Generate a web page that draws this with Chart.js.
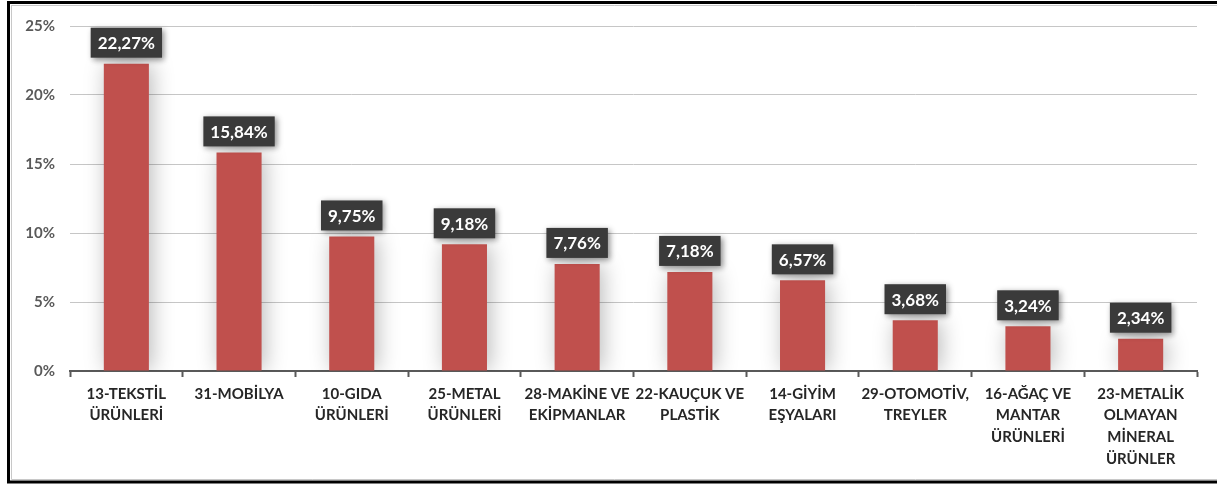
<!DOCTYPE html>
<html>
<head>
<meta charset="utf-8">
<script src="https://cdn.jsdelivr.net/npm/chart.js@4/dist/chart.umd.min.js"></script>
<style>
  html, body { margin: 0; padding: 0; background: #ffffff; }
  #wrap { position: relative; width: 1217px; height: 484px; }
</style>
</head>
<body>
<div id="wrap"><canvas id="c" width="1217" height="484"></canvas></div>
<script>
// Sector categories (multi-line tick labels)
const categories = [
  ['13-TEKSTİL', 'ÜRÜNLERİ'],
  ['31-MOBİLYA'],
  ['10-GIDA', 'ÜRÜNLERİ'],
  ['25-METAL', 'ÜRÜNLERİ'],
  ['28-MAKİNE VE', 'EKİPMANLAR'],
  ['22-KAUÇUK VE', 'PLASTİK'],
  ['14-GİYİM', 'EŞYALARI'],
  ['29-OTOMOTİV,', 'TREYLER'],
  ['16-AĞAÇ VE', 'MANTAR', 'ÜRÜNLERİ'],
  ['23-METALİK', 'OLMAYAN', 'MİNERAL', 'ÜRÜNLER']
];

// Share of each sector, percent
const shares = [22.27, 15.84, 9.75, 9.18, 7.76, 7.18, 6.57, 3.68, 3.24, 2.34];

// Value axis ticks
const yTicks = [0, 5, 10, 15, 20, 25];

const FONT = 'Lato, "Open Sans", sans-serif';

// Soft drop shadow behind the bars
const barShadow = {
  id: 'barShadow',
  beforeDatasetsDraw(chart) {
    const ctx = chart.ctx;
    ctx.save();
    ctx.shadowColor = 'rgba(0,0,0,0.28)';
    ctx.shadowBlur = 22;
    ctx.shadowOffsetX = 3;
    ctx.shadowOffsetY = 0;
  },
  afterDatasetsDraw(chart) {
    chart.ctx.restore();
  }
};

// Dark value callouts above each bar
const valueBoxes = {
  id: 'valueBoxes',
  afterDatasetsDraw(chart) {
    const ctx = chart.ctx;
    const meta = chart.getDatasetMeta(0);
    const data = chart.data.datasets[0].data;
    ctx.save();
    ctx.font = 'bold 17px ' + FONT;
    meta.data.forEach((bar, i) => {
      const txt = data[i].toFixed(2).replace('.', ',') + '%';
      const tw = ctx.measureText(txt).width;
      const w = tw + 14, h = 30;
      const x = bar.x - w / 2;
      const y = bar.y - 6 - h;
      ctx.save();
      ctx.shadowColor = 'rgba(0,0,0,0.45)';
      ctx.shadowBlur = 6;
      ctx.shadowOffsetX = 2;
      ctx.shadowOffsetY = 2;
      ctx.fillStyle = '#3a3a3a';
      ctx.fillRect(x, y, w, h);
      ctx.restore();
      ctx.fillStyle = '#ffffff';
      ctx.textAlign = 'center';
      ctx.textBaseline = 'middle';
      ctx.fillText(txt, bar.x, y + h / 2 + 1);
    });
    ctx.restore();
  }
};

// Frame around the figure
const frame = {
  id: 'frame',
  afterDraw(chart) {
    const ctx = chart.ctx;
    ctx.save();
    ctx.strokeStyle = '#c8c8c8';
    ctx.lineWidth = 1;
    ctx.beginPath();
    ctx.moveTo(11.5, 5);
    ctx.lineTo(11.5, 479.5);
    ctx.lineTo(1217, 479.5);
    ctx.moveTo(11.5, 5.5);
    ctx.lineTo(1217, 5.5);
    ctx.stroke();
    ctx.strokeStyle = '#000000';
    ctx.lineWidth = 3;
    ctx.beginPath();
    ctx.moveTo(1217, 2.5);
    ctx.lineTo(8.5, 2.5);
    ctx.lineTo(8.5, 482);
    ctx.lineTo(1217, 482);
    ctx.stroke();
    ctx.restore();
  }
};

new Chart(document.getElementById('c'), {
  type: 'bar',
  data: {
    labels: categories,
    datasets: [{
      data: shares,
      backgroundColor: '#C0504D',
      borderWidth: 0,
      barPercentage: 0.4,
      categoryPercentage: 1.0
    }]
  },
  options: {
    responsive: false,
    animation: false,
    events: [],
    layout: { padding: { left: 0, right: 20, top: 26, bottom: 0 } },
    plugins: {
      legend: { display: false },
      tooltip: { enabled: false }
    },
    scales: {
      x: {
        grid: {
          display: true,
          offset: true,
          drawOnChartArea: false,
          drawTicks: true,
          tickLength: 6,
          tickWidth: 2,
          tickColor: '#595959'
        },
        border: { display: true, color: '#595959', width: 2 },
        ticks: {
          autoSkip: false,
          maxRotation: 0,
          padding: 6,
          color: '#262626',
          font: { family: FONT, size: 15, weight: 'bold', lineHeight: 1.45 }
        },
        afterFit(scale) { scale.height = 113; }
      },
      y: {
        min: 0,
        max: 25,
        afterBuildTicks(scale) { scale.ticks = yTicks.map(v => ({ value: v })); },
        grid: { color: '#c6c6c6', lineWidth: 1, drawTicks: false },
        border: { display: false },
        ticks: {
          padding: 15,
          color: '#595959',
          font: { family: FONT, size: 15, weight: 'bold' },
          callback: v => v + '%'
        },
        afterFit(scale) { scale.width = 70; }
      }
    }
  },
  plugins: [barShadow, valueBoxes, frame]
});
</script>
</body>
</html>
